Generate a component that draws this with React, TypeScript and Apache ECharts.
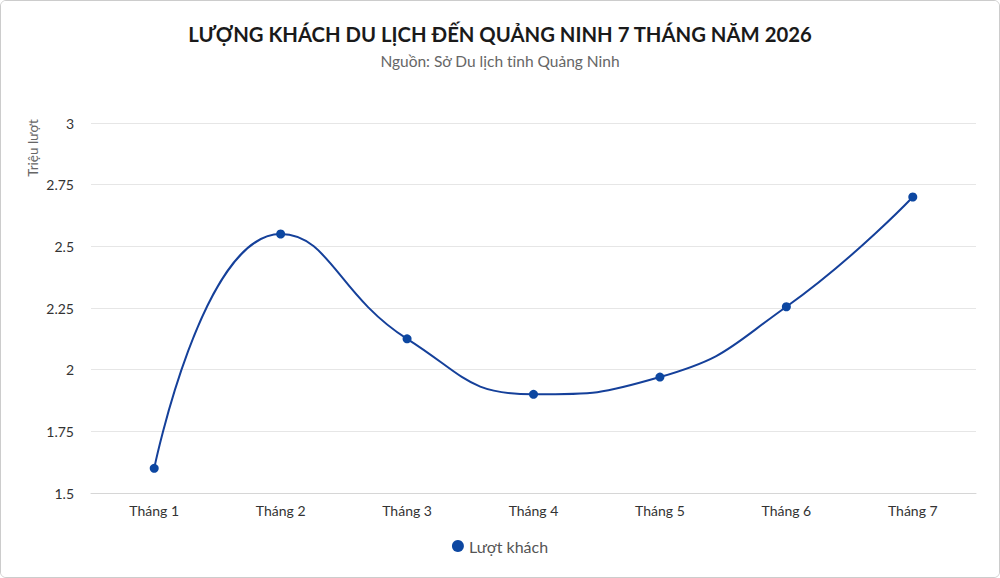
import React, { useEffect, useRef } from "react";
import * as echarts from "echarts";

const categories = ["Tháng 1", "Tháng 2", "Tháng 3", "Tháng 4", "Tháng 5", "Tháng 6", "Tháng 7"];
const visitors = [1.6, 2.55, 2.125, 1.9, 1.97, 2.255, 2.7];
const yTicks = [1.5, 1.75, 2, 2.25, 2.5, 2.75, 3];

const FONT = "Lato, 'Noto Sans', sans-serif";

export default function App() {
  const ref = useRef<HTMLDivElement>(null);
  useEffect(() => {
    document.body.style.margin = "0";
    if (!ref.current) return;
    const chart = echarts.init(ref.current, null, { renderer: "svg" });
    chart.setOption({
      animation: false,
      backgroundColor: "#ffffff",
      textStyle: { fontFamily: FONT },
      title: {
        text: "LƯỢNG KHÁCH DU LỊCH ĐẾN QUẢNG NINH 7 THÁNG NĂM 2026",
        subtext: "Nguồn: Sở Du lịch tỉnh Quảng Ninh",
        left: "center",
        top: 18,
        itemGap: 9,
        textStyle: { fontFamily: FONT, fontSize: 20.3, fontWeight: "bold", color: "#1a1a1a" },
        subtextStyle: { fontFamily: FONT, fontSize: 15.5, color: "#666666" },
      },
      legend: {
        bottom: 18,
        left: "center",
        icon: "circle",
        itemWidth: 12,
        itemHeight: 12,
        itemGap: 6,
        textStyle: { fontFamily: FONT, fontSize: 16, color: "#555555" },
        data: ["Lượt khách"],
      },
      graphic: [
        {
          type: "text",
          x: 32,
          y: 147,
          rotation: Math.PI / 2,
          style: {
            text: "Triệu lượt",
            fontFamily: FONT,
            fontSize: 13.5,
            fill: "#666666",
            align: "center",
            verticalAlign: "middle",
          },
        },
      ],
      grid: { left: 90, right: 23, top: 122, bottom: 84, containLabel: false },
      xAxis: {
        type: "category",
        data: categories,
        boundaryGap: true,
        axisLine: { show: true, lineStyle: { color: "#d6d6d6", width: 1 } },
        axisTick: { show: false },
        axisLabel: { color: "#333333", fontSize: 14, margin: 10, fontFamily: FONT },
      },
      yAxis: {
        type: "value",
        min: yTicks[0],
        max: yTicks[yTicks.length - 1],
        interval: 0.25,
        axisLine: { show: false },
        axisTick: { show: false },
        splitLine: { lineStyle: { color: "#e6e6e6", width: 1 } },
        axisLabel: {
          color: "#333333",
          fontSize: 14,
          margin: 17,
          fontFamily: FONT,
          formatter: (v: number) => String(v),
        },
      },
      series: [
        {
          name: "Lượt khách",
          type: "line",
          data: visitors,
          smooth: 0.5,
          symbol: "circle",
          symbolSize: 9,
          lineStyle: { color: "#15409a", width: 2 },
          itemStyle: { color: "#0d47a1" },
        },
      ],
    });
    return () => chart.dispose();
  }, []);
  return (
    <div
      style={{
        position: "absolute",
        left: 0,
        top: 0,
        width: 1000,
        height: 578,
        boxSizing: "border-box",
        border: "1px solid #cccccc",
        borderRadius: 6,
        overflow: "hidden",
        background: "#fff",
      }}
    >
      <div ref={ref} style={{ width: 998, height: 576 }} />
    </div>
  );
}
